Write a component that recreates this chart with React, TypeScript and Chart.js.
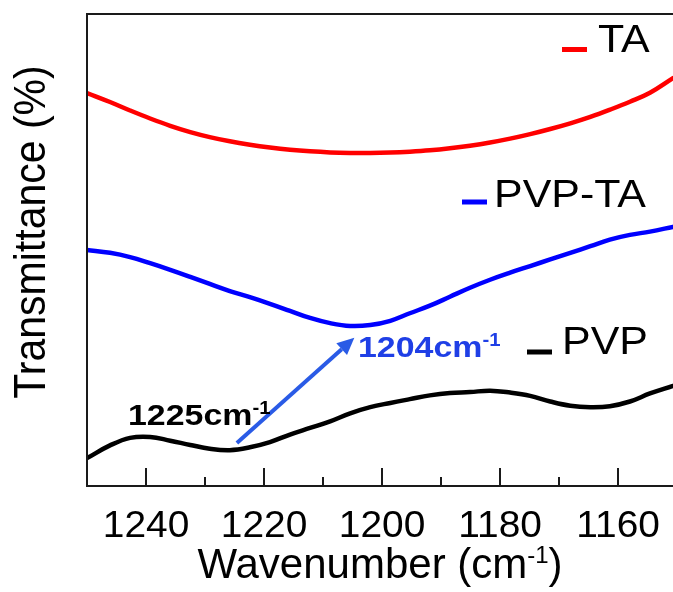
import { useEffect, useRef } from "react";
import { Chart, registerables } from "chart.js";

Chart.register(...registerables);

// ---- data (wavenumber in cm-1, transmittance in arbitrary %) ----
const wavenumbers = [1250, 1246.1, 1242.7, 1239.3, 1235.9, 1232.5, 1229.2, 1225.8, 1222.4, 1219.0, 1215.6, 1212.2, 1208.8, 1205.4, 1202.0, 1198.6, 1195.3, 1191.9, 1188.5, 1185.1, 1181.7, 1178.3, 1174.9, 1171.5, 1168.1, 1164.7, 1161.4, 1158.0, 1154.6, 1150.7];
const taValues = [83.26, 81.36, 79.56, 77.86, 76.31, 74.98, 73.92, 73.03, 72.31, 71.72, 71.25, 70.91, 70.68, 70.57, 70.55, 70.64, 70.83, 71.12, 71.55, 72.1, 72.78, 73.6, 74.56, 75.64, 76.84, 78.2, 79.72, 81.42, 83.33, 86.42];
const pvpTaValues = [50.0, 49.4, 48.5, 47.2, 45.8, 44.3, 42.8, 41.3, 40.0, 38.6, 37.1, 35.6, 34.5, 33.9, 34.1, 35.0, 36.6, 38.2, 40.1, 42.0, 43.7, 45.2, 46.6, 48.0, 49.4, 50.8, 52.2, 53.2, 53.9, 54.9];
const pvpValues = [5.9, 8.6, 10.2, 10.4, 9.6, 8.7, 7.9, 7.6, 8.2, 9.3, 10.9, 12.3, 13.7, 15.4, 16.7, 17.6, 18.4, 19.2, 19.7, 19.9, 20.2, 19.8, 19.1, 17.9, 17.0, 16.7, 16.9, 17.9, 19.6, 21.2];

const seriesNames = ["TA", "PVP-TA", "PVP"];
const seriesColors = ["#ff0000", "#0000ff", "#000000"];
const majorTicks = [1240, 1220, 1200, 1180, 1160];
const minorTicks = [1230, 1210, 1190, 1170];
const xRange = [1150.7, 1250];
const yRange = [0, 100];
const peakShift = { from: [1224.6, 9.1], to: [1204.7, 31.4] };
const peakLabels = ["1225cm", "1204cm"];
const xTitle = ["Wavenumber (cm", "-1", ")"];
const yTitle = "Transmittance (%)";

const FONT = '"Liberation Sans", Arial, Helvetica, sans-serif';
const SX = 1.13;

type Part = { t: string; size: number; dy: number; bold?: boolean; sx?: number };

function drawParts(ctx: CanvasRenderingContext2D, parts: Part[], x: number, y: number, color: string, align: "left" | "center" = "left") {
  ctx.save();
  ctx.fillStyle = color;
  ctx.textBaseline = "alphabetic";
  ctx.textAlign = "left";
  const widths = parts.map((p) => {
    ctx.font = `${p.bold ? "bold " : ""}${p.size}px ${FONT}`;
    return ctx.measureText(p.t).width * (p.sx ?? SX);
  });
  const total = widths.reduce((a, b) => a + b, 0);
  let cx = align === "center" ? x - total / 2 : x;
  parts.forEach((p, i) => {
    ctx.save();
    ctx.font = `${p.bold ? "bold " : ""}${p.size}px ${FONT}`;
    ctx.translate(cx, y + p.dy);
    ctx.scale(p.sx ?? SX, 1);
    ctx.fillText(p.t, 0, 0);
    ctx.restore();
    cx += widths[i];
  });
  ctx.restore();
}

const decor = {
  id: "decor",
  afterDatasetsDraw(chart: any) {
    const { ctx, chartArea: a, scales } = chart;
    const xs = scales.x;
    const ys = scales.y;
    ctx.save();

    // frame (left, top, bottom)
    ctx.strokeStyle = "#1a1a1a";
    ctx.lineWidth = 2;
    ctx.beginPath();
    ctx.moveTo(a.right + 10, a.top);
    ctx.lineTo(a.left, a.top);
    ctx.lineTo(a.left, a.bottom);
    ctx.lineTo(a.right + 10, a.bottom);
    ctx.stroke();

    // inward ticks
    ctx.beginPath();
    majorTicks.forEach((v) => {
      const px = Math.round(xs.getPixelForValue(v));
      ctx.moveTo(px, a.bottom);
      ctx.lineTo(px, a.bottom - 18);
    });
    minorTicks.forEach((v) => {
      const px = Math.round(xs.getPixelForValue(v));
      ctx.moveTo(px, a.bottom);
      ctx.lineTo(px, a.bottom - 9);
    });
    ctx.stroke();

    // tick labels
    majorTicks.forEach((v) => {
      drawParts(ctx, [{ t: String(v), size: 36, dy: 0, sx: 1.08 }], xs.getPixelForValue(v), 537, "#000", "center");
    });

    // x title
    drawParts(
      ctx,
      [
        { t: xTitle[0], size: 42, dy: 0, sx: 1 },
        { t: xTitle[1], size: 24, dy: -15, sx: 1 },
        { t: xTitle[2], size: 42, dy: 0, sx: 1 },
      ],
      (a.left + a.right) / 2,
      578,
      "#000",
      "center"
    );

    // y title
    ctx.save();
    ctx.fillStyle = "#000";
    ctx.font = `41px ${FONT}`;
    ctx.textAlign = "center";
    ctx.textBaseline = "alphabetic";
    ctx.translate(30, 232);
    ctx.scale(1.1, 1);
    ctx.rotate(-Math.PI / 2);
    ctx.fillText(yTitle, 0, 14);
    ctx.restore();

    // legend entries
    const legend = [
      { dash: [562, 587, 49.5], text: [598, 52] },
      { dash: [462, 487, 202], text: [494, 207] },
      { dash: [527, 552, 352], text: [562, 354] },
    ];
    legend.forEach((l, i) => {
      ctx.strokeStyle = seriesColors[i];
      ctx.lineWidth = 5;
      ctx.beginPath();
      ctx.moveTo(l.dash[0], l.dash[2]);
      ctx.lineTo(l.dash[1], l.dash[2]);
      ctx.stroke();
      drawParts(ctx, [{ t: seriesNames[i], size: 38, dy: 0 }], l.text[0], l.text[1], "#000");
    });

    // arrow for peak shift
    const x1 = xs.getPixelForValue(peakShift.from[0]);
    const y1 = ys.getPixelForValue(peakShift.from[1]);
    const x2 = xs.getPixelForValue(peakShift.to[0]);
    const y2 = ys.getPixelForValue(peakShift.to[1]);
    const ang = Math.atan2(y2 - y1, x2 - x1);
    const head = 17;
    const hw = 8;
    const bx = x2 - head * Math.cos(ang);
    const by = y2 - head * Math.sin(ang);
    ctx.strokeStyle = "#2a5be6";
    ctx.fillStyle = "#2a5be6";
    ctx.lineWidth = 4;
    ctx.lineCap = "butt";
    ctx.beginPath();
    ctx.moveTo(x1, y1);
    ctx.lineTo(bx, by);
    ctx.stroke();
    ctx.beginPath();
    ctx.moveTo(x2, y2);
    ctx.lineTo(bx + hw * Math.sin(ang), by - hw * Math.cos(ang));
    ctx.lineTo(bx - hw * Math.sin(ang), by + hw * Math.cos(ang));
    ctx.closePath();
    ctx.fill();

    // peak labels
    drawParts(
      ctx,
      [
        { t: peakLabels[0], size: 30, dy: 0, bold: true },
        { t: "-1", size: 18, dy: -11, bold: true },
      ],
      128,
      425,
      "#000"
    );
    drawParts(
      ctx,
      [
        { t: peakLabels[1], size: 30, dy: 0, bold: true },
        { t: "-1", size: 18, dy: -11, bold: true },
      ],
      358,
      357,
      "#1f3fe6"
    );

    ctx.restore();
  },
};

export default function App() {
  const ref = useRef<HTMLCanvasElement | null>(null);

  useEffect(() => {
    document.body.style.margin = "0";
    document.body.style.background = "#fff";
    const canvas = ref.current;
    if (!canvas) return;
    const values = [taValues, pvpTaValues, pvpValues];
    const chart = new Chart(canvas, {
      type: "line",
      data: {
        datasets: values.map((vals, i) => ({
          label: seriesNames[i],
          data: wavenumbers.map((w, j) => ({ x: w, y: vals[j] })),
          borderColor: seriesColors[i],
          borderWidth: 4.5,
          pointRadius: 0,
          tension: 0.4,
          fill: false,
          borderJoinStyle: "round" as const,
          borderCapStyle: "round" as const,
        })),
      },
      options: {
        animation: false,
        responsive: false,
        devicePixelRatio: 1,
        layout: { padding: { left: 87, top: 14, right: 0, bottom: 106 } },
        plugins: { legend: { display: false }, tooltip: { enabled: false } },
        scales: {
          x: { type: "linear", reverse: true, min: xRange[0], max: xRange[1], display: false },
          y: { type: "linear", min: yRange[0], max: yRange[1], display: false },
        },
      },
      plugins: [decor],
    });
    return () => chart.destroy();
  }, []);

  return <canvas ref={ref} width={673} height={592} style={{ display: "block" }} />;
}
